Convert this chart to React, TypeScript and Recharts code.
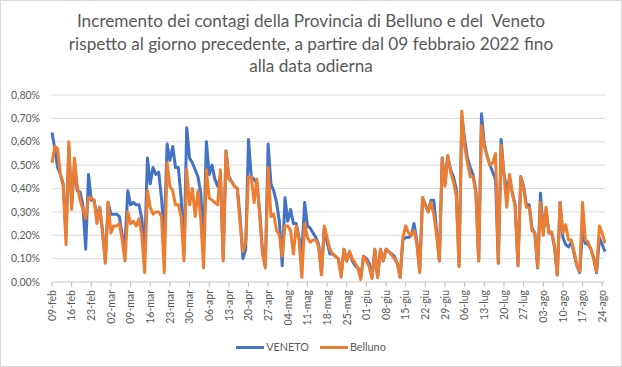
import React from 'react';
import { LineChart, Line, XAxis, YAxis, CartesianGrid } from 'recharts';

const startDate = [2022, 1, 9];
const monthNames = ['gen', 'feb', 'mar', 'apr', 'mag', 'giu', 'lug', 'ago', 'set', 'ott', 'nov', 'dic'];

const veneto = [
  0.64, 0.57, 0.49, 0.46, 0.42, 0.20, 0.58,
  0.33, 0.50, 0.39, 0.385, 0.33, 0.14, 0.46,
  0.35, 0.35, 0.28, 0.32, 0.22, 0.09, 0.34,
  0.29, 0.29, 0.29, 0.28, 0.20, 0.16, 0.39,
  0.33, 0.34, 0.33, 0.33, 0.27, 0.12, 0.53,
  0.42, 0.49, 0.46, 0.47, 0.36, 0.20, 0.59,
  0.52, 0.58, 0.49, 0.49, 0.36, 0.12, 0.66,
  0.53, 0.51, 0.48, 0.45, 0.38, 0.15, 0.60,
  0.46, 0.50, 0.44, 0.41, 0.45, 0.10, 0.56,
  0.45, 0.43, 0.41, 0.40, 0.28, 0.10, 0.14,
  0.61, 0.45, 0.44, 0.42, 0.30, 0.13, 0.07,
  0.59, 0.42, 0.39, 0.34, 0.26, 0.07, 0.36,
  0.26, 0.31, 0.25, 0.25, 0.19, 0.12, 0.34,
  0.24, 0.23, 0.21, 0.19, 0.16, 0.04, 0.23,
  0.17, 0.12, 0.12, 0.11, 0.10, 0.03, 0.14,
  0.09, 0.13, 0.09, 0.07, 0.06, 0.02, 0.11,
  0.10, 0.08, 0.02, 0.14, 0.02, 0.14, 0.09,
  0.14, 0.13, 0.12, 0.11, 0.08, 0.02, 0.18,
  0.19, 0.19, 0.20, 0.25, 0.17, 0.05, 0.36,
  0.33, 0.30, 0.35, 0.35, 0.22, 0.09, 0.53,
  0.42, 0.54, 0.48, 0.45, 0.40, 0.07, 0.71,
  0.61, 0.53, 0.49, 0.46, 0.39, 0.09, 0.72,
  0.59, 0.54, 0.50, 0.47, 0.44, 0.08, 0.61,
  0.46, 0.40, 0.44, 0.38, 0.33, 0.07, 0.45,
  0.41, 0.33, 0.33, 0.23, 0.21, 0.06, 0.38,
  0.22, 0.31, 0.21, 0.21, 0.15, 0.03, 0.34,
  0.19, 0.16, 0.15, 0.17, 0.12, 0.07, 0.04,
  0.22, 0.165, 0.16, 0.14, 0.10, 0.04, 0.19,
  0.16, 0.13,
];

const belluno = [
  0.51, 0.58, 0.57, 0.46, 0.41, 0.16, 0.60,
  0.31, 0.53, 0.41, 0.35, 0.31, 0.27, 0.36,
  0.36, 0.35, 0.25, 0.32, 0.21, 0.08, 0.34,
  0.21, 0.24, 0.24, 0.25, 0.18, 0.09, 0.30,
  0.25, 0.26, 0.24, 0.27, 0.20, 0.04, 0.39,
  0.32, 0.29, 0.30, 0.30, 0.28, 0.04, 0.51,
  0.41, 0.39, 0.33, 0.33, 0.28, 0.09, 0.48,
  0.33, 0.40, 0.28, 0.39, 0.27, 0.06, 0.48,
  0.36, 0.35, 0.34, 0.33, 0.48, 0.09, 0.56,
  0.44, 0.43, 0.41, 0.40, 0.25, 0.13, 0.17,
  0.45, 0.45, 0.34, 0.44, 0.28, 0.12, 0.06,
  0.49, 0.28, 0.29, 0.22, 0.20, 0.11, 0.24,
  0.24, 0.22, 0.12, 0.24, 0.18, 0.02, 0.25,
  0.19, 0.17, 0.18, 0.18, 0.15, 0.03, 0.24,
  0.19, 0.14, 0.12, 0.11, 0.10, 0.02, 0.14,
  0.09, 0.13, 0.10, 0.08, 0.06, 0.01, 0.11,
  0.09, 0.065, 0.015, 0.14, 0.02, 0.14, 0.09,
  0.14, 0.13, 0.115, 0.10, 0.08, 0.02, 0.19,
  0.24, 0.21, 0.20, 0.22, 0.16, 0.04, 0.36,
  0.33, 0.30, 0.34, 0.29, 0.20, 0.09, 0.53,
  0.41, 0.54, 0.47, 0.43, 0.37, 0.065, 0.73,
  0.58, 0.51, 0.45, 0.45, 0.38, 0.09, 0.67,
  0.58, 0.54, 0.50, 0.51, 0.55, 0.08, 0.585,
  0.46, 0.32, 0.46, 0.38, 0.32, 0.07, 0.45,
  0.40, 0.32, 0.32, 0.22, 0.21, 0.065, 0.34,
  0.20, 0.32, 0.21, 0.215, 0.16, 0.03, 0.34,
  0.21, 0.245, 0.18, 0.18, 0.13, 0.07, 0.045,
  0.34, 0.18, 0.17, 0.14, 0.10, 0.045, 0.24,
  0.21, 0.165,
];

const yTicks = [0, 0.1, 0.2, 0.3, 0.4, 0.5, 0.6, 0.7, 0.8];

const titleLines = [
  'Incremento dei contagi della Provincia di Belluno e del  Veneto',
  'rispetto al giorno precedente, a partire dal 09 febbraio 2022 fino',
  'alla data odierna',
];

const seriesNames = ['VENETO', 'Belluno'];
const seriesColors = ['#4472C4', '#ED7D31'];

const dateLabel = (i: number) => {
  const d = new Date(startDate[0], startDate[1], startDate[2] + i);
  const dd = String(d.getDate()).padStart(2, '0');
  return `${dd}-${monthNames[d.getMonth()]}`;
};

const data = veneto.map((v, i) => ({ date: dateLabel(i), veneto: v, belluno: belluno[i] }));

const FONT = 'Lato, "Open Sans", sans-serif';
const TEXT = '#595959';

const XTick = (props: any) => {
  const { x, y, payload } = props;
  return (
    <g transform={`translate(${x},${y})`}>
      <text transform="rotate(-90)" textAnchor="end" dy="0.36em" fill={TEXT} fontSize={10.5} fontFamily={FONT}>
        {payload.value}
      </text>
    </g>
  );
};

const fmtY = (v: number) => v.toFixed(2).replace('.', ',') + '%';

export default function App() {
  return (
    <div style={{ position: 'fixed', left: 0, top: 0, width: 622, height: 367, background: '#fff' }}>
      <div style={{ position: 'absolute', left: 0, top: 0, width: 622, height: 367, boxSizing: 'border-box', border: '1px solid #D9D9D9' }} />
      <div style={{ position: 'absolute', left: 0, top: 10, width: 622, textAlign: 'center', fontFamily: FONT, fontSize: 17.2, lineHeight: '22.5px', color: TEXT, whiteSpace: 'pre' }}>
        {titleLines.map((t, i) => (
          <div key={i}>{t}</div>
        ))}
      </div>
      <div style={{ position: 'absolute', left: 0, top: 0 }}>
        <LineChart width={622} height={367} data={data} margin={{ top: 95, right: 17, bottom: 45, left: 0 }}>
          <CartesianGrid vertical={false} stroke="#D9D9D9" strokeWidth={1} />
          <XAxis
            dataKey="date"
            interval={6}
            height={40}
            tick={<XTick />}
            tickSize={5}
            tickMargin={3}
            stroke="#BFBFBF"
            axisLine={{ stroke: '#D9D9D9' }}
            tickLine={{ stroke: '#BFBFBF' }}
          />
          <YAxis
            domain={[0, 0.8]}
            ticks={yTicks}
            tickFormatter={fmtY}
            width={52}
            axisLine={false}
            tickLine={false}
            tickSize={0}
            tickMargin={12}
            tick={{ fill: TEXT, fontSize: 10.5, fontFamily: FONT }}
          />
          <Line type="linear" dataKey="veneto" name={seriesNames[0]} stroke={seriesColors[0]} strokeWidth={3} dot={false} isAnimationActive={false} strokeLinejoin="round" />
          <Line type="linear" dataKey="belluno" name={seriesNames[1]} stroke={seriesColors[1]} strokeWidth={3} dot={false} isAnimationActive={false} strokeLinejoin="round" />
        </LineChart>
      </div>
      <div style={{ position: 'absolute', left: 0, top: 339, width: 622, display: 'flex', justifyContent: 'center', fontFamily: FONT, fontSize: 10.8, color: TEXT, lineHeight: '16px' }}>
        {seriesNames.map((n, i) => (
          <div key={n} style={{ display: 'flex', alignItems: 'center', marginLeft: i === 0 ? 0 : 11 }}>
            <div style={{ width: 28, height: 3, background: seriesColors[i], marginRight: 2 }} />
            <span>{n}</span>
          </div>
        ))}
      </div>
    </div>
  );
}
